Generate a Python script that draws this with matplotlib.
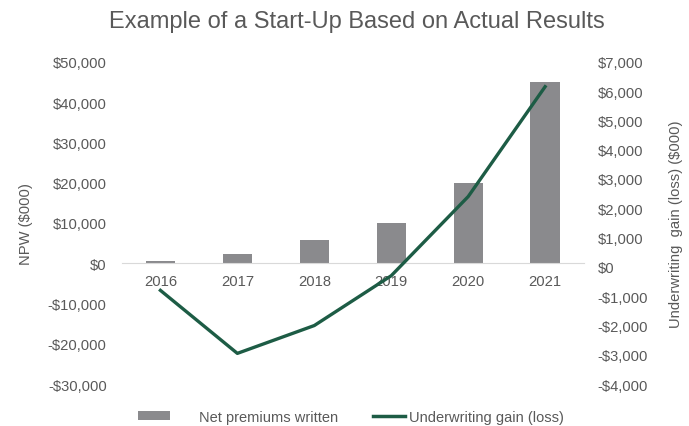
import matplotlib.pyplot as plt
from matplotlib.ticker import FuncFormatter
from matplotlib.lines import Line2D
from matplotlib.patches import Patch

plt.rcParams["font.family"] = ["Liberation Sans", "DejaVu Sans"]

years = ["2016", "2017", "2018", "2019", "2020", "2021"]
npw = [500, 2200, 5700, 10000, 20000, 45000]          # net premiums written ($000)
uw_gain = [-800, -2950, -2000, -300, 2400, 6150]      # underwriting gain (loss) ($000)

text_col = "#595959"
bar_col = "#8a8a8d"
line_col = "#1d5c45"


def dollars(v, pos):
    if v < 0:
        return f"-${abs(v):,.0f}"
    return f"${v:,.0f}"


fig = plt.figure(figsize=(6.89, 4.27), dpi=100)
ax = fig.add_axes([0.177, 0.098, 0.670, 0.755])
ax2 = ax.twinx()

x = range(len(years))
ax.bar(x, npw, width=0.38, color=bar_col, zorder=2)
ax2.plot(x, uw_gain, color=line_col, lw=2.4, zorder=3)

ax.set_xlim(-0.5, len(years) - 0.5)
ax.set_ylim(-30000, 50000)
ax.set_yticks(range(-30000, 50001, 10000))
ax2.set_ylim(-4000, 7000)
ax2.set_yticks(range(-4000, 7001, 1000))
ax.yaxis.set_major_formatter(FuncFormatter(dollars))
ax2.yaxis.set_major_formatter(FuncFormatter(dollars))

# category axis sits on the zero line
ax.spines["bottom"].set_position(("data", 0))
ax.spines["bottom"].set_color("#d9d9d9")
for s in ["top", "left", "right"]:
    ax.spines[s].set_visible(False)
for s in ["top", "left", "right", "bottom"]:
    ax2.spines[s].set_visible(False)

ax.set_xticks(list(x))
ax.set_xticklabels(years)
ax.tick_params(axis="x", length=0, pad=8, labelsize=10.6, labelcolor=text_col)
ax.tick_params(axis="y", length=0, pad=11, labelsize=10.6, labelcolor=text_col)
ax2.tick_params(axis="y", length=0, pad=10, labelsize=10.6, labelcolor=text_col)

ax.set_ylabel("NPW ($000)", color=text_col, fontsize=10.6, labelpad=11)
ax2.set_ylabel("Underwriting  gain (loss) ($000)", color=text_col, fontsize=10.6,
               labelpad=15)

fig.suptitle("Example of a Start-Up Based on Actual Results", color=text_col,
             fontsize=17, x=0.518, y=0.975)

# two legend entries placed separately along the bottom
leg1 = fig.legend([Patch(facecolor=bar_col, edgecolor="none")], ["Net premiums written"],
                  loc="center left", bbox_to_anchor=(0.19, 0.022), frameon=False,
                  fontsize=10.5, labelcolor=text_col, handlelength=2.2,
                  handleheight=0.6, handletextpad=2.0, borderpad=0)
leg2 = fig.legend([Line2D([0], [0], color=line_col, lw=2.5)], ["Underwriting gain (loss)"],
                  loc="center left", bbox_to_anchor=(0.531, 0.022), frameon=False,
                  fontsize=10.5, labelcolor=text_col, handlelength=2.2,
                  handletextpad=0.25, borderpad=0)

fig.savefig("out.png", dpi=100)
